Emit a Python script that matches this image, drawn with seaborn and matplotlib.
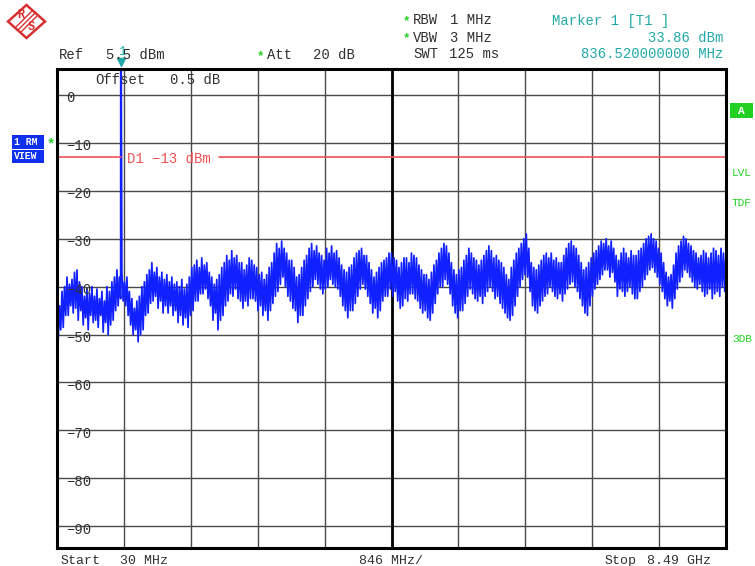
import numpy as np
import pandas as pd
import matplotlib
matplotlib.use("Agg")
import matplotlib.pyplot as plt
import matplotlib.patches as mpatches
import matplotlib.lines as mlines
import matplotlib.transforms as mtrans
import seaborn as sns

# ---------------- data ----------------
start_mhz = 30.0
stop_mhz = 8490.0
div_mhz = 846.0
ref_level = 5.5
bottom_level = -94.5
y_tick_values = [0, -10, -20, -30, -40, -50, -60, -70, -80, -90]
y_tick_labels = ["0", "\u221210", "\u221220", "\u221230", "\u221240",
                 "\u221250", "\u221260", "\u221270", "\u221280", "\u221290"]
d1_level = -13.0
marker_freq = 836.52
marker_level = 33.86

# noise trace excursions (dBm), read every ~63 MHz: peaks / troughs,
# plus the secondary peaks / troughs seen between them
trace_hi = [
    -46, -41, -38, -38.5, -36.5, -40, -40.5, -40, -40.5, -41, -40, -39, -36.5, -37, -38, -42.5, -43, -40, -37.5, -35, -36, -37,
    -37.5, -38, -39, -38.5, -39.5, -36, -34.5, -34, -35, -38, -38.5, -36, -33.5, -32.5, -33.5, -35, -35.5, -34.5, -36, -37, -37.5, -35, -31,
    -30.5, -33, -34.5, -38, -36, -33.5, -31, -31.5, -33.5, -32, -31.5, -32.5, -35.5, -37, -35.5, -33, -32, -33.5, -36.5, -37, -35, -34,
    -33, -34.5, -35, -34, -33, -34, -36.5, -37.5, -37, -34.5, -32, -31.5, -35, -37.5, -36, -33.5, -33, -34.5, -34.5, -32.5, -32.5, -33.5, -35,
    -37.5, -36, -33, -31, -29, -35, -36.5, -34.5, -33, -33, -34, -35, -32, -30.5, -32, -35, -36, -34, -32.5, -30.5, -30, -30.5,
    -33.5, -33, -33, -32.5, -33.5, -32, -30, -29, -30.5, -33, -37, -37.5, -33, -30.5, -30, -31.5, -33, -33.5, -33, -33, -32.5, -32, -33,
]
trace_lo = [
    -51, -48.5, -46, -45.5, -47, -48, -49, -47.5, -48.5, -49.5, -50, -47, -44, -43, -46, -50, -51.5, -49, -45.5, -43, -44.5, -45.5,
    -45.5, -46, -47.5, -48, -48.5, -45, -43, -41.5, -42.5, -47, -49, -46, -43, -42, -42.5, -44.5, -44, -42.5, -45, -46, -47, -43.5, -41,
    -38, -42, -44.5, -47.5, -46, -42.5, -40, -39.5, -41.5, -40, -39.5, -40.5, -44, -46.5, -45, -42, -39.5, -42, -45.5, -46.5, -43, -42,
    -42, -43, -44, -43, -41.5, -43, -45.5, -46.5, -45.5, -41.5, -40, -39.5, -44, -46.5, -45, -42, -41.5, -43, -43.5, -41, -41, -42, -44.5,
    -46.5, -46, -42, -38.5, -38, -44, -45.5, -43, -41.5, -41, -42.5, -43, -40.5, -39, -41, -44, -46, -42, -39.5, -37.5, -36.5, -37,
    -42, -41, -41, -41.5, -42.5, -40, -37.5, -36, -38, -41, -44, -44.5, -40.5, -38, -37, -39, -40.5, -41, -41.5, -42.5, -41, -40, -41,
]
trace_hi2 = [
    -44, -40, -39.5, -37, -39, -42, -41.5, -42, -42.5, -43, -41, -38, -38, -39, -41, -44.5, -42, -39, -36.5, -37, -38, -38.5,
    -39, -39.5, -40, -40.5, -38, -35.5, -36, -35.5, -37, -39.5, -37.5, -35, -34.5, -34, -35, -36.5, -34, -35.5, -37.5, -38.5, -36, -33, -32,
    -32, -34.5, -36, -37.5, -34.5, -32, -32.5, -33, -34.5, -33, -33, -34, -36.5, -36, -34, -32.5, -33.5, -35, -38, -36, -34.5, -33,
    -34, -36, -34, -35, -33.5, -35.5, -37.5, -38.5, -35.5, -33, -31, -33, -36.5, -36.5, -34.5, -32, -34, -35.5, -33.5, -31.5, -34, -34.5, -36,
    -38.5, -34.5, -32, -30, -32, -36, -35.5, -33.5, -34, -34.5, -35, -33.5, -31, -31.5, -33.5, -36.5, -35, -33, -31.5, -31, -31.5, -32,
    -34.5, -32, -34, -33.5, -32.5, -31, -29.5, -30, -32, -35, -38, -35.5, -31.5, -29.5, -31, -32.5, -34, -32.5, -34, -32, -33.5, -33, -34,
]
trace_lo2 = [
    -49, -46, -44, -44.5, -45, -46.5, -46, -47, -46, -47.5, -48, -45, -42.5, -44, -48, -49, -50, -46, -43.5, -42, -43, -44,
    -44, -45, -46, -46.5, -46, -43, -41.5, -40.5, -44, -45.5, -47, -44, -41.5, -40.5, -43, -43, -42.5, -43, -44, -45, -45, -42, -39.5,
    -40, -43, -45, -46, -44, -41, -38.5, -40.5, -40.5, -38.5, -40, -42, -45, -45, -43.5, -40.5, -40.5, -43.5, -44.5, -45, -42, -40.5,
    -41, -44.5, -42.5, -41.5, -42.5, -44.5, -45, -47, -43.5, -40, -38.5, -41.5, -45.5, -45, -43.5, -40.5, -42.5, -42, -42, -40, -42.5, -43.5, -45.5,
    -47, -44, -40, -37.5, -41, -45, -44, -42, -40, -42, -41.5, -41.5, -39.5, -40, -42.5, -45.5, -44, -40.5, -38.5, -36.5, -38, -39,
    -40.5, -42, -40, -42.5, -41, -38.5, -36.5, -37, -39.5, -42.5, -43, -42.5, -39, -36.5, -38, -40, -39.5, -42, -40.5, -41.5, -42, -41, -40,
]

# ---------------- build trace table ----------------
n = len(trace_hi)
assert n == len(trace_lo) == len(trace_hi2) == len(trace_lo2)
step = (stop_mhz - start_mhz) / (n - 1)
f0 = start_mhz + np.arange(n) * step
freq = np.column_stack([f0, f0 + step / 4, f0 + step / 2, f0 + 3 * step / 4]).ravel()
level = np.column_stack([trace_hi, trace_lo, trace_hi2, trace_lo2]).ravel()
freq = np.append(freq, marker_freq)
level = np.append(level, marker_level)
df = pd.DataFrame({"freq": freq, "level": level}).sort_values("freq").reset_index(drop=True)

# ---------------- figure ----------------
W, H = 755, 566
sns.set_theme(style="white")
plt.rcParams["font.family"] = ["Liberation Mono", "DejaVu Sans Mono"]
fig = plt.figure(figsize=(W / 100, H / 100), dpi=100)
fig.patch.set_facecolor("white")

L, R, T, B = 57, 726, 68.7, 547.7
ax = fig.add_axes([L / W, 1 - B / H, (R - L) / W, (B - T) / H])
ax.set_facecolor("white")

sns.lineplot(data=df, x="freq", y="level", sort=False, estimator=None,
             color="#1020FF", lw=1.25, ax=ax)

ax.set_xlim(start_mhz, stop_mhz)
ax.set_ylim(bottom_level, ref_level)
ax.set_xticks([start_mhz + div_mhz * k for k in range(11)])
ax.set_yticks(y_tick_values)
ax.tick_params(length=0, labelbottom=False, labelleft=False)
ax.set_xlabel("")
ax.set_ylabel("")
ax.grid(True, color="#4a4a4a", lw=1.0)
ax.set_axisbelow(True)
for s in ax.spines.values():
    s.set_color("black")
    s.set_linewidth(2.2)
ax.axvline(start_mhz + 5 * div_mhz, color="black", lw=2.0, zorder=1)

# y labels inside the grid (sit a few pixels below their line)
lab_tr = mtrans.blended_transform_factory(ax.transAxes, ax.transData)
for v, t in zip(y_tick_values, y_tick_labels):
    ax.text((66 - L) / (R - L), v - 1.55, t, transform=lab_tr, ha="left",
            va="baseline", fontsize=10, color="#303030")

# D1 display line
red = "#F05050"
ax.axhline(d1_level, xmin=0, xmax=(121 - L) / (R - L), color=red, lw=1.2)
ax.axhline(d1_level, xmin=(219 - L) / (R - L), xmax=1, color=red, lw=1.2)
ax.text((127 - L) / (R - L), d1_level - 1.25, "D1 \u221213 dBm", transform=lab_tr,
        ha="left", va="baseline", fontsize=10, color=red)

# marker triangle above the grid
teal = "#22A8A8"
mk_tr = mtrans.blended_transform_factory(ax.transData, ax.transAxes)
ax.plot([marker_freq], [1 + 6.5 / (B - T)], marker="v", ms=6, color=teal,
        transform=mk_tr, clip_on=False)


def ft(x, y, s, color="#303030", ha="left", size=10, **kw):
    # y is the visual centre of capital letters; convert to baseline
    fig.text(x / W, 1 - (y + 4.0) / H, s, ha=ha, va="baseline", color=color,
             fontsize=size, **kw)


green = "#22D022"
# header texts
ft(59, 55, "Ref")
ft(106, 55, "5.5 dBm")
ft(122, 51, "1", color=teal, ha="center", size=9)
ft(95, 80, "Offset")
ft(170, 80, "0.5 dB")
ft(260, 55, "*", color=green, size=9, weight="bold", ha="center")
ft(267, 55, "Att")
ft(313, 55, "20 dB")
ft(406, 20, "*", color=green, size=9, weight="bold", ha="center")
ft(413, 20.5, "RBW")
ft(450, 20.5, "1 MHz")
ft(406, 37, "*", color=green, size=9, weight="bold", ha="center")
ft(413, 37.5, "VBW")
ft(450, 37.5, "3 MHz")
ft(413, 54.5, "SWT")
ft(449, 54.5, "125 ms")
ft(552, 20.5, "Marker 1 [T1 ]", color=teal)
ft(723, 37.5, "33.86 dBm", color=teal, ha="right")
ft(723, 54.5, "836.520000000 MHz", color=teal, ha="right")

# footer texts
ft(61, 560, "Start", size=9.5)
ft(120, 560, "30 MHz", size=9.5)
ft(391, 560, "846 MHz/", ha="center", size=9.5)
ft(605, 560, "Stop", size=9.5)
ft(647, 560, "8.49 GHz", size=9.5)

# left side boxes
blue = "#1030F0"
for (y0, y1, s) in [(135, 148.5, "1 RM"), (149.5, 163, "VIEW")]:
    fig.add_artist(mpatches.Rectangle((12 / W, 1 - y1 / H), 32 / W, (y1 - y0) / H,
                                      transform=fig.transFigure, color=blue, lw=0))
    ft(14, (y0 + y1) / 2 - 1, s, color="white", size=7, weight="bold")
ft(51, 144, "*", color=green, size=10, weight="bold", ha="center")

# right side annotations
fig.add_artist(mpatches.Rectangle((730 / W, 1 - 118 / H), 23 / W, 15 / H,
                                  transform=fig.transFigure, color=green, lw=0))
ft(741.5, 110, "A", color="white", ha="center", size=8, weight="bold")
ft(732, 172, "LVL", color=green, size=8)
ft(732, 202, "TDF", color=green, size=8)
ft(732, 338, "3DB", color=green, size=8)

# R&S logo
lred = "#D83030"
cx, cy, hw, hh = 26.5, 21.5, 18.5, 16.5
pts = [(cx, cy - hh), (cx + hw, cy), (cx, cy + hh), (cx - hw, cy)]
fig.add_artist(mpatches.Polygon([(x / W, 1 - y / H) for x, y in pts], closed=True,
                                fill=False, edgecolor=lred, lw=1.8, transform=fig.transFigure))
for off in (-2.5, 0, 2.5):
    x0, y0 = cx - 8 + off, cy + 8 + off
    x1, y1 = cx + 8 + off, cy - 8 + off
    fig.add_artist(mlines.Line2D([x0 / W, x1 / W], [1 - y0 / H, 1 - y1 / H], color=lred,
                                 lw=1.0, transform=fig.transFigure))
ft(20.5, 14.5, "R", color=lred, ha="center", size=8.5, weight="bold")
ft(31.5, 26.5, "S", color=lred, ha="center", size=8.5, weight="bold")

fig.savefig("out.png", dpi=100, facecolor="white")
